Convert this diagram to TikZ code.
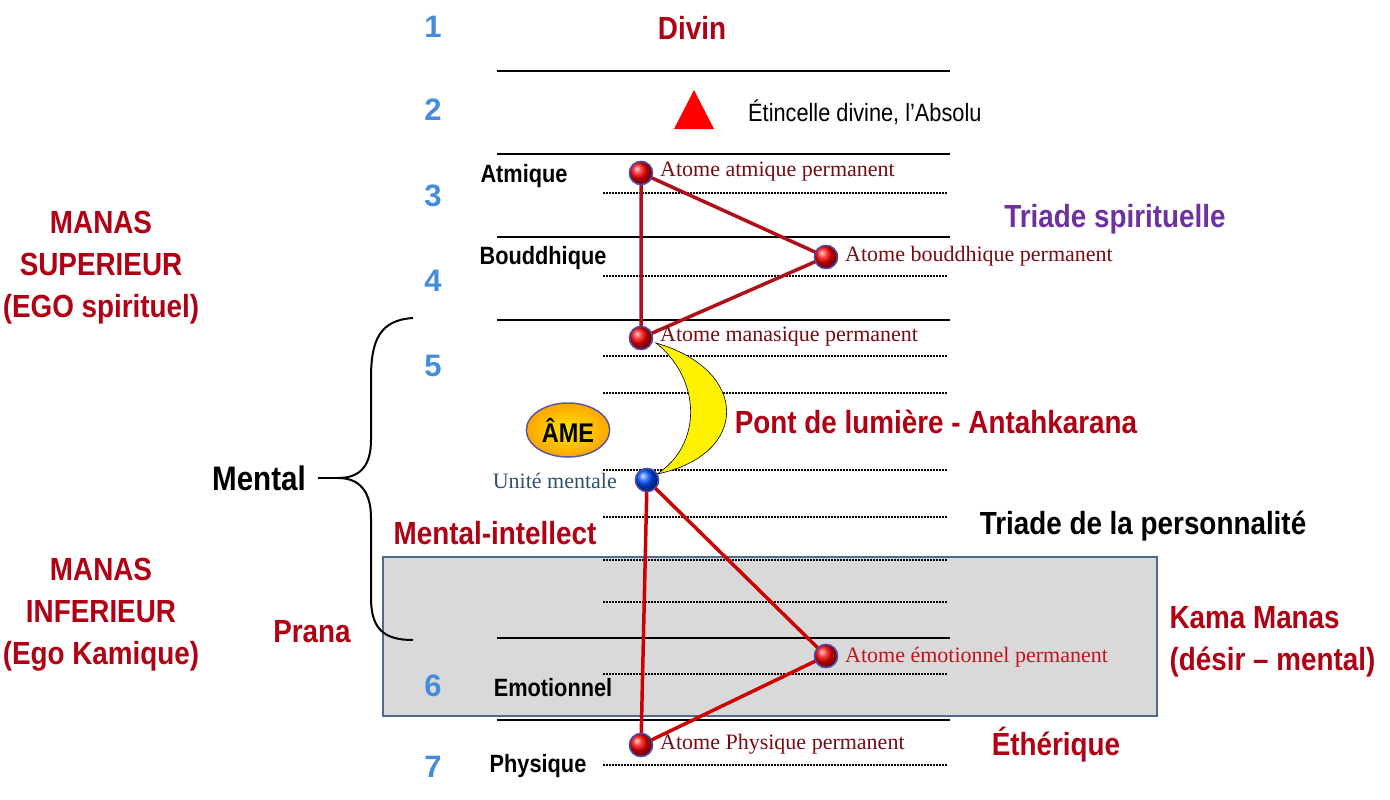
\documentclass[tikz,border=0pt]{standalone}
\usepackage{fontspec}
\setmainfont{Liberation Serif}
\newfontfamily\cond[FakeStretch=0.87]{Liberation Sans}
\newfontfamily\numfont{Liberation Sans}
\usetikzlibrary{shapes.geometric}
\definecolor{numblue}{RGB}{70,140,220}
\definecolor{darkred}{RGB}{175,0,20}
\definecolor{maroon}{RGB}{120,10,20}
\definecolor{brightred}{RGB}{190,20,30}
\definecolor{purpl}{RGB}{110,50,160}
\definecolor{boxgray}{RGB}{217,217,217}
\definecolor{boxedge}{RGB}{80,105,140}
\definecolor{trired}{RGB}{175,15,25}
\definecolor{unitblue}{RGB}{50,80,115}
\tikzset{
  num/.style={font=\numfont\bfseries\fontsize{31}{31}\selectfont, text=numblue},
  bigred/.style={font=\cond\bfseries\fontsize{32}{42}\selectfont, text=darkred, align=center},
  plane/.style={font=\cond\bfseries\fontsize{25}{27}\selectfont, text=black},
  atomlbl/.style={font=\fontsize{22}{22}\selectfont, text=maroon, anchor=west, inner sep=0pt},
  solidline/.style={line width=2pt},
  dotline/.style={line width=1.6pt, dash pattern=on 1.5pt off 1.5pt},
  atom/.style={circle, minimum size=23pt, inner sep=0pt, shading=ball, ball color=red, draw=gray!60!blue, line width=1.4pt},
  tri/.style={draw=trired, line width=3.5pt, line join=round}
}
\begin{document}
\begin{tikzpicture}[x=1pt,y=-1pt]
\useasboundingbox (0,0) rectangle (1390,800);
% gray box
\draw[fill=boxgray, draw=boxedge, line width=1.5pt] (383,557) rectangle (1157,716);
% solid lines
\foreach \y in {71,154,237,320,638,720} \draw[solidline] (497,\y) -- (950,\y);
% dotted lines
\foreach \y in {193,276,356,393,470,517,560,602,674,765} \draw[dotline] (603,\y) -- (948,\y);
% numbers
\node[num] (n1) at (433,27) {1};
\node[num] (n2) at (433,110) {2};
\node[num] (n3) at (433,196) {3};
\node[num] (n4) at (433,281) {4};
\node[num] (n5) at (433,366) {5};
\node[num] (n6) at (433,686) {6};
\node[num] (n7) at (433,767) {7};
% top
\node[bigred] (divin) at (692,28) {Divin};
\fill[red] (674,129) -- (714,129) -- (694,90) -- cycle;
\node[font=\cond\fontsize{25}{27}\selectfont, anchor=west, inner sep=0pt] (etin) at (748,112) {Étincelle divine, l’Absolu};
% plane names
\node[plane] (atm) at (524,176) {Atmique};
\node[plane] (bou) at (543,258) {Bouddhique};
\node[plane] (emo) at (553,688) {Emotionnel};
\node[plane] (phy) at (538,766) {Physique};
% crescent
\draw[fill=yellow, draw=black, line width=0.6pt] (656,343) .. controls (750,370) and (750,455) .. (657,474) .. controls (702,445) and (702,380) .. cycle;
% AME
\node[ellipse, minimum width=82pt, minimum height=54pt, draw=gray!70!blue, line width=1.5pt, inner color=yellow!80!orange, outer color=orange!70!yellow, font=\cond\bfseries\fontsize{27}{28}\selectfont] (ame) at (568,430) {ÂME};
% atoms
\node[atom] (at1) at (641,173) {};
\node[atom] (at2) at (826,257) {};
\node[atom] (at3) at (641,338) {};
\node[atom, ball color=blue!70!cyan] (at4) at (647,480) {};
\node[atom] (at5) at (826,656) {};
\node[atom] (at6) at (641,745) {};
% triangles
\draw[tri] (at1.center) -- (at2.center) -- (at3.center) -- cycle;
\draw[tri, draw=red!80!black] (at4.center) -- (at5.center) -- (at6.center) -- cycle;
% redraw atoms on top
\node[atom] at (at1) {};
\node[atom] at (at2) {};
\node[atom] at (at3) {};
\node[atom, ball color=blue!70!cyan] at (at4) {};
\node[atom] at (at5) {};
\node[atom] at (at6) {};
% atom labels
\node[atomlbl] (l1) at (660,172) {Atome atmique permanent};
\node[atomlbl] (l2) at (845,256) {Atome bouddhique permanent};
\node[atomlbl] (l3) at (660,337) {Atome manasique permanent};
\node[atomlbl, text=unitblue, anchor=east] (l4) at (617,481) {Unité mentale};
\node[atomlbl, text=brightred] (l5) at (845,657) {Atome émotionnel permanent};
\node[atomlbl] (l6) at (660,744) {Atome Physique permanent};
% big labels
\node[bigred, text=purpl] (trs) at (1115,219) {Triade spirituelle};
\node[bigred] (pont) at (936,422) {Pont de lumière - Antahkarana};
\node[bigred, text=black] (trp) at (1143,526) {Triade de la personnalité};
\node[bigred] (mi) at (495,533) {Mental-intellect};
\node[bigred] (eth) at (1056,745) {Éthérique};
\node[bigred, align=left, anchor=west] (kama) at (1166,642) {Kama Manas\\(désir – mental)};
\node[bigred] (prana) at (312,632) {Prana};
\node[bigred] (msup) at (101,268) {MANAS\\SUPERIEUR\\(EGO spirituel)};
\node[bigred] (minf) at (101,615) {MANAS\\INFERIEUR\\(Ego Kamique)};
\node[font=\cond\bfseries\fontsize{34}{36}\selectfont] (mental) at (259,478) {Mental};
% brace
\coordinate (btop) at (413,318);
\coordinate (bbot) at (413,640);
\coordinate (btip) at (338,478);
\coordinate (bend) at (318,478);
\draw[line width=2pt] (btop) .. controls (380,320) and (371,340) .. (371,378) -- (371,440) .. controls (371,466) and (360,478) .. (btip) .. controls (360,478) and (371,492) .. (371,518) -- (371,598) .. controls (371,630) and (385,640) .. (bbot);
\draw[line width=2pt] (bend) -- (btip);
\end{tikzpicture}
\end{document}
